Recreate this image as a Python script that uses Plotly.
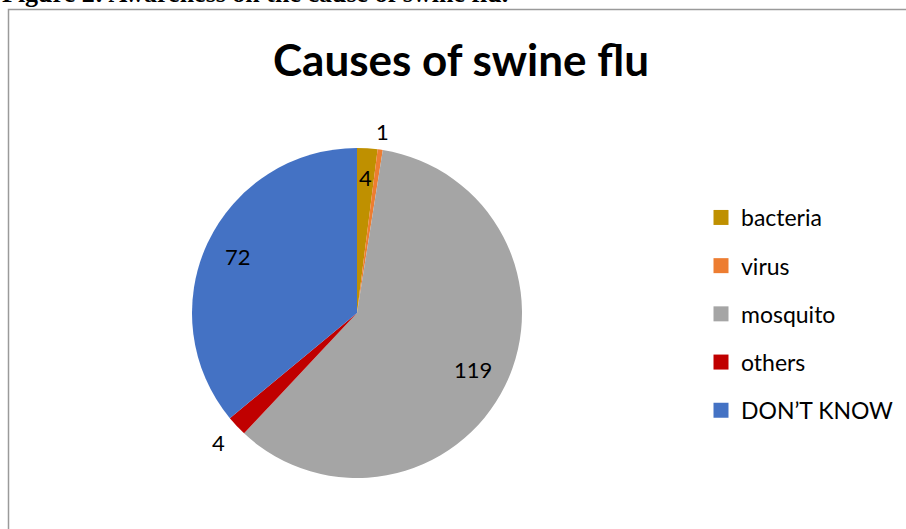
import math
import plotly.graph_objects as go

# Survey responses: perceived cause of swine flu
causes = ["bacteria", "virus", "mosquito", "others", "DON\u2019T KNOW"]
counts = [4, 1, 119, 4, 72]
colors = ["#BF9000", "#ED7D31", "#A5A5A5", "#C00000", "#4472C4"]

# Radial placement of each value label, as a fraction of the pie radius
LABEL_RADIUS = [0.82, 1.11, 0.78, 1.15, 0.80]

W, H = 906, 529
FONT = "Lato, Open Sans, sans-serif"

# Pie geometry in pixels (centre and radius), used for the domain and labels
CX, CY, R = 357, 313, 165

fig = go.Figure()

fig.add_trace(go.Pie(
    labels=causes,
    values=counts,
    sort=False,
    direction="clockwise",
    rotation=0,
    marker=dict(colors=colors, line=dict(width=0)),
    textinfo="none",
    showlegend=False,
    hoverinfo="label+value",
    domain=dict(x=[(CX - R) / W, (CX + R) / W], y=[1 - (CY + R) / H, 1 - (CY - R) / H]),
))

# Value labels at the middle angle of each slice
total = sum(counts)
annotations = []
cum = 0
for v, f in zip(counts, LABEL_RADIUS):
    mid = (cum + v / 2) / total * 2 * math.pi
    cum += v
    px = CX + f * R * math.sin(mid)
    py = CY - f * R * math.cos(mid)
    annotations.append(dict(
        text=str(v), xref="paper", yref="paper",
        x=px / W, y=1 - py / H, xanchor="center", yanchor="middle",
        showarrow=False,
        font=dict(family=FONT, size=22, color="#000000"),
    ))

annotations.append(dict(
    text="<b>Figure 2: Awareness on the cause of swine flu.</b>",
    xref="paper", yref="paper",
    x=0, xanchor="left",
    y=1 - 10 / H, yanchor="bottom",
    showarrow=False,
    font=dict(family="Liberation Serif, Times New Roman, serif", size=26, color="#000000"),
))

# Legend entries, one group per cause so the rows can be spaced out
for name, col in zip(causes, colors):
    fig.add_trace(go.Scatter(
        x=[None], y=[None], mode="markers", name=name,
        legendgroup=name,
        marker=dict(symbol="square", size=15, color=col),
    ))

fig.update_layout(
    width=W, height=H,
    margin=dict(l=0, r=0, t=0, b=0),
    paper_bgcolor="white",
    plot_bgcolor="white",
    xaxis=dict(visible=False),
    yaxis=dict(visible=False),
    title=dict(
        text="<b>Causes of swine flu</b>",
        x=461 / W, xanchor="center",
        y=1 - 61 / H, yanchor="middle",
        font=dict(family=FONT, size=44, color="#000000"),
    ),
    legend=dict(
        x=701 / W, xanchor="left",
        y=1 - 196 / H, yanchor="top",
        font=dict(family=FONT, size=23, color="#000000"),
        tracegroupgap=15.3,
        itemwidth=30,
        bgcolor="rgba(0,0,0,0)",
    ),
    shapes=[dict(
        type="rect", xref="paper", yref="paper",
        x0=8.5 / W, x1=1.05, y0=-0.05, y1=1 - 9.5 / H,
        line=dict(color="#9a9a9a", width=1.5),
        fillcolor="rgba(0,0,0,0)", layer="below",
    )],
    annotations=annotations,
)

fig.write_html("out.html")
